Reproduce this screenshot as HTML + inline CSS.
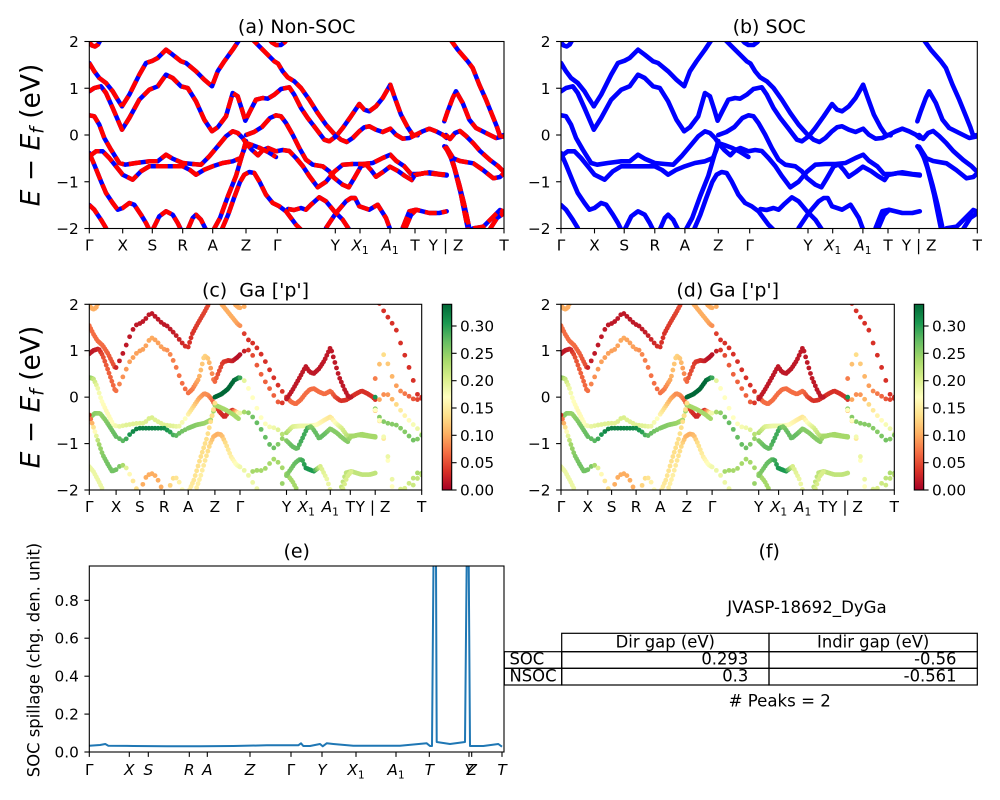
<!DOCTYPE html>
<html><head><meta charset="utf-8">
<style>
html,body{margin:0;padding:0;background:#fff;}
svg{display:block;font-family:"DejaVu Sans","Liberation Sans",sans-serif;}
</style></head><body>
<svg id="s" width="1000" height="800" viewBox="0 0 1000 800" xmlns="http://www.w3.org/2000/svg">
<defs>
<clipPath id="ca"><rect x="89.3" y="41.5" width="414.7" height="187"/></clipPath>
<clipPath id="cb"><rect x="561" y="41.5" width="416.3" height="187"/></clipPath>
<clipPath id="cc"><rect x="89.3" y="304.3" width="332.4" height="185.7"/></clipPath>
<clipPath id="cd"><rect x="561" y="304.3" width="333.3" height="185.7"/></clipPath>
<clipPath id="ce"><rect x="89.3" y="566" width="414.7" height="186"/></clipPath>
<linearGradient id="cm" x1="0" y1="1" x2="0" y2="0">
<stop offset="0" stop-color="rgb(165,0,38)"/>
<stop offset="0.1" stop-color="rgb(215,48,39)"/>
<stop offset="0.2" stop-color="rgb(244,109,67)"/>
<stop offset="0.3" stop-color="rgb(253,174,97)"/>
<stop offset="0.4" stop-color="rgb(254,224,139)"/>
<stop offset="0.5" stop-color="rgb(255,255,191)"/>
<stop offset="0.6" stop-color="rgb(217,239,139)"/>
<stop offset="0.7" stop-color="rgb(166,217,106)"/>
<stop offset="0.8" stop-color="rgb(102,189,99)"/>
<stop offset="0.9" stop-color="rgb(26,152,80)"/>
<stop offset="1" stop-color="rgb(0,104,55)"/>
</linearGradient>
</defs>
<rect x="0" y="0" width="1000" height="800" fill="#fff"/>

<g id="ga" clip-path="url(#ca)"></g>
<g id="gb" clip-path="url(#cb)"></g>
<g id="gc" clip-path="url(#cc)"></g>
<g id="gd" clip-path="url(#cd)"></g>

<g clip-path="url(#ce)">
<polyline fill="none" stroke="#1f77b4" stroke-width="2" stroke-linejoin="round" points="89.3,745.7 100,745 105.3,744 108.3,745.7 133.3,746 166.7,746.3 200,746.3 233.3,746 266.7,745.3 293.3,745.3 298.3,745.3 301,743.3 303.3,746 310,746 320,744 322.7,746.3 326.7,743.3 333.3,744 353.3,745.7 400,745.7 426.7,743.3 430,746 432,746 433.5,560 436,560 436.7,742 450,744 465,742 466.7,560 468.7,560 470,746 483.3,746 498.3,744 502,746.7"/>
</g>

<g fill="none" stroke="#000" stroke-width="1.1">
<rect x="89.3" y="41.5" width="414.7" height="187"/>
<rect x="561" y="41.5" width="416.3" height="187"/>
<rect x="89.3" y="304.3" width="332.4" height="185.7"/>
<rect x="561" y="304.3" width="333.3" height="185.7"/>
<rect x="89.3" y="566" width="414.7" height="186"/>
</g>

<rect x="442.3" y="304.3" width="9.4" height="185.7" fill="url(#cm)" stroke="#000" stroke-width="1.1"/>
<rect x="914.3" y="304.3" width="9.4" height="185.7" fill="url(#cm)" stroke="#000" stroke-width="1.1"/>

<g stroke="#000" stroke-width="1.1">
<line x1="84.4" y1="41.5" x2="89.3" y2="41.5"/><line x1="84.4" y1="88.25" x2="89.3" y2="88.25"/><line x1="84.4" y1="135" x2="89.3" y2="135"/><line x1="84.4" y1="181.75" x2="89.3" y2="181.75"/><line x1="84.4" y1="228.5" x2="89.3" y2="228.5"/>
<line x1="556.1" y1="41.5" x2="561" y2="41.5"/><line x1="556.1" y1="88.25" x2="561" y2="88.25"/><line x1="556.1" y1="135" x2="561" y2="135"/><line x1="556.1" y1="181.75" x2="561" y2="181.75"/><line x1="556.1" y1="228.5" x2="561" y2="228.5"/>
<line x1="84.4" y1="304.3" x2="89.3" y2="304.3"/><line x1="84.4" y1="350.7" x2="89.3" y2="350.7"/><line x1="84.4" y1="397.15" x2="89.3" y2="397.15"/><line x1="84.4" y1="443.6" x2="89.3" y2="443.6"/><line x1="84.4" y1="490" x2="89.3" y2="490"/>
<line x1="556.1" y1="304.3" x2="561" y2="304.3"/><line x1="556.1" y1="350.7" x2="561" y2="350.7"/><line x1="556.1" y1="397.15" x2="561" y2="397.15"/><line x1="556.1" y1="443.6" x2="561" y2="443.6"/><line x1="556.1" y1="490" x2="561" y2="490"/>
<line x1="84.4" y1="752" x2="89.3" y2="752"/><line x1="84.4" y1="714.1" x2="89.3" y2="714.1"/><line x1="84.4" y1="676.2" x2="89.3" y2="676.2"/><line x1="84.4" y1="638.2" x2="89.3" y2="638.2"/><line x1="84.4" y1="600.3" x2="89.3" y2="600.3"/>
<line x1="89.3" y1="228.5" x2="89.3" y2="233.4"/><line x1="122.7" y1="228.5" x2="122.7" y2="233.4"/><line x1="152.3" y1="228.5" x2="152.3" y2="233.4"/><line x1="182.7" y1="228.5" x2="182.7" y2="233.4"/><line x1="212.7" y1="228.5" x2="212.7" y2="233.4"/><line x1="246" y1="228.5" x2="246" y2="233.4"/><line x1="277.3" y1="228.5" x2="277.3" y2="233.4"/><line x1="335.3" y1="228.5" x2="335.3" y2="233.4"/><line x1="360" y1="228.5" x2="360" y2="233.4"/><line x1="390" y1="228.5" x2="390" y2="233.4"/><line x1="415" y1="228.5" x2="415" y2="233.4"/><line x1="446" y1="228.5" x2="446" y2="233.4"/><line x1="504" y1="228.5" x2="504" y2="233.4"/>
<line x1="561" y1="228.5" x2="561" y2="233.4"/><line x1="594.5" y1="228.5" x2="594.5" y2="233.4"/><line x1="624.2" y1="228.5" x2="624.2" y2="233.4"/><line x1="654.8" y1="228.5" x2="654.8" y2="233.4"/><line x1="684.9" y1="228.5" x2="684.9" y2="233.4"/><line x1="718.3" y1="228.5" x2="718.3" y2="233.4"/><line x1="749.7" y1="228.5" x2="749.7" y2="233.4"/><line x1="808" y1="228.5" x2="808" y2="233.4"/><line x1="832.7" y1="228.5" x2="832.7" y2="233.4"/><line x1="862.9" y1="228.5" x2="862.9" y2="233.4"/><line x1="888" y1="228.5" x2="888" y2="233.4"/><line x1="919.1" y1="228.5" x2="919.1" y2="233.4"/><line x1="977.3" y1="228.5" x2="977.3" y2="233.4"/>
<line x1="89.3" y1="490" x2="89.3" y2="494.9"/><line x1="116.1" y1="490" x2="116.1" y2="494.9"/><line x1="139.8" y1="490" x2="139.8" y2="494.9"/><line x1="164.2" y1="490" x2="164.2" y2="494.9"/><line x1="188.2" y1="490" x2="188.2" y2="494.9"/><line x1="214.9" y1="490" x2="214.9" y2="494.9"/><line x1="240" y1="490" x2="240" y2="494.9"/><line x1="286.5" y1="490" x2="286.5" y2="494.9"/><line x1="306.3" y1="490" x2="306.3" y2="494.9"/><line x1="330.3" y1="490" x2="330.3" y2="494.9"/><line x1="350.3" y1="490" x2="350.3" y2="494.9"/><line x1="375.2" y1="490" x2="375.2" y2="494.9"/><line x1="421.7" y1="490" x2="421.7" y2="494.9"/>
<line x1="561" y1="490" x2="561" y2="494.9"/><line x1="587.8" y1="490" x2="587.8" y2="494.9"/><line x1="611.6" y1="490" x2="611.6" y2="494.9"/><line x1="636.1" y1="490" x2="636.1" y2="494.9"/><line x1="660.2" y1="490" x2="660.2" y2="494.9"/><line x1="686.9" y1="490" x2="686.9" y2="494.9"/><line x1="712.1" y1="490" x2="712.1" y2="494.9"/><line x1="758.7" y1="490" x2="758.7" y2="494.9"/><line x1="778.6" y1="490" x2="778.6" y2="494.9"/><line x1="802.7" y1="490" x2="802.7" y2="494.9"/><line x1="822.8" y1="490" x2="822.8" y2="494.9"/><line x1="847.7" y1="490" x2="847.7" y2="494.9"/><line x1="894.3" y1="490" x2="894.3" y2="494.9"/>
<line x1="89.3" y1="752" x2="89.3" y2="756.9"/><line x1="129.3" y1="752" x2="129.3" y2="756.9"/><line x1="148.3" y1="752" x2="148.3" y2="756.9"/><line x1="189.3" y1="752" x2="189.3" y2="756.9"/><line x1="207.3" y1="752" x2="207.3" y2="756.9"/><line x1="250" y1="752" x2="250" y2="756.9"/><line x1="291" y1="752" x2="291" y2="756.9"/><line x1="322" y1="752" x2="322" y2="756.9"/><line x1="356" y1="752" x2="356" y2="756.9"/><line x1="396" y1="752" x2="396" y2="756.9"/><line x1="429.3" y1="752" x2="429.3" y2="756.9"/><line x1="469" y1="752" x2="469" y2="756.9"/><line x1="471.7" y1="752" x2="471.7" y2="756.9"/><line x1="502" y1="752" x2="502" y2="756.9"/>
<line x1="451.7" y1="490" x2="456.6" y2="490"/><line x1="451.7" y1="462.7" x2="456.6" y2="462.7"/><line x1="451.7" y1="435.3" x2="456.6" y2="435.3"/><line x1="451.7" y1="408" x2="456.6" y2="408"/><line x1="451.7" y1="380.7" x2="456.6" y2="380.7"/><line x1="451.7" y1="353.3" x2="456.6" y2="353.3"/><line x1="451.7" y1="326" x2="456.6" y2="326"/>
<line x1="923.7" y1="490" x2="928.6" y2="490"/><line x1="923.7" y1="462.7" x2="928.6" y2="462.7"/><line x1="923.7" y1="435.3" x2="928.6" y2="435.3"/><line x1="923.7" y1="408" x2="928.6" y2="408"/><line x1="923.7" y1="380.7" x2="928.6" y2="380.7"/><line x1="923.7" y1="353.3" x2="928.6" y2="353.3"/><line x1="923.7" y1="326" x2="928.6" y2="326"/>
</g>

<g font-size="15.3" fill="#000">
<g text-anchor="end">
<text x="78.8" y="47">2</text><text x="78.8" y="93.75">1</text><text x="78.8" y="140.5">0</text><text x="78.8" y="187.25">−1</text><text x="78.8" y="234">−2</text>
<text x="550.5" y="47">2</text><text x="550.5" y="93.75">1</text><text x="550.5" y="140.5">0</text><text x="550.5" y="187.25">−1</text><text x="550.5" y="234">−2</text>
<text x="78.8" y="309.8">2</text><text x="78.8" y="356.2">1</text><text x="78.8" y="402.65">0</text><text x="78.8" y="449.1">−1</text><text x="78.8" y="495.5">−2</text>
<text x="550.5" y="309.8">2</text><text x="550.5" y="356.2">1</text><text x="550.5" y="402.65">0</text><text x="550.5" y="449.1">−1</text><text x="550.5" y="495.5">−2</text>
<text x="78.8" y="757.5">0.0</text><text x="78.8" y="719.6">0.2</text><text x="78.8" y="681.7">0.4</text><text x="78.8" y="643.7">0.6</text><text x="78.8" y="605.8">0.8</text>
</g>
<g text-anchor="start">
<text x="460" y="495.5">0.00</text><text x="460" y="468.2">0.05</text><text x="460" y="440.8">0.10</text><text x="460" y="413.5">0.15</text><text x="460" y="386.2">0.20</text><text x="460" y="358.8">0.25</text><text x="460" y="331.5">0.30</text>
<text x="932" y="495.5">0.00</text><text x="932" y="468.2">0.05</text><text x="932" y="440.8">0.10</text><text x="932" y="413.5">0.15</text><text x="932" y="386.2">0.20</text><text x="932" y="358.8">0.25</text><text x="932" y="331.5">0.30</text>
</g>
<g text-anchor="middle">
<text x="89.3" y="250.7">Γ</text><text x="122.7" y="250.7">X</text><text x="152.3" y="250.7">S</text><text x="182.7" y="250.7">R</text><text x="212.7" y="250.7">A</text><text x="246" y="250.7">Z</text><text x="277.3" y="250.7">Γ</text><text x="335.3" y="250.7">Y</text>
<text x="360" y="250.7"><tspan font-style="italic">X</tspan><tspan font-size="10.7" dy="3.5">1</tspan></text>
<text x="390" y="250.7"><tspan font-style="italic">A</tspan><tspan font-size="10.7" dy="3.5">1</tspan></text>
<text x="415" y="250.7">T</text><text x="446" y="250.7">Y | Z</text><text x="504" y="250.7">T</text>
<text x="561" y="250.7">Γ</text><text x="594.5" y="250.7">X</text><text x="624.2" y="250.7">S</text><text x="654.8" y="250.7">R</text><text x="684.9" y="250.7">A</text><text x="718.3" y="250.7">Z</text><text x="749.7" y="250.7">Γ</text><text x="808" y="250.7">Y</text>
<text x="832.7" y="250.7"><tspan font-style="italic">X</tspan><tspan font-size="10.7" dy="3.5">1</tspan></text>
<text x="862.9" y="250.7"><tspan font-style="italic">A</tspan><tspan font-size="10.7" dy="3.5">1</tspan></text>
<text x="888" y="250.7">T</text><text x="919.1" y="250.7">Y | Z</text><text x="977.3" y="250.7">T</text>
<text x="89.3" y="512.2">Γ</text><text x="116.1" y="512.2">X</text><text x="139.8" y="512.2">S</text><text x="164.2" y="512.2">R</text><text x="188.2" y="512.2">A</text><text x="214.9" y="512.2">Z</text><text x="240" y="512.2">Γ</text><text x="286.5" y="512.2">Y</text>
<text x="306.3" y="512.2"><tspan font-style="italic">X</tspan><tspan font-size="10.7" dy="3.5">1</tspan></text>
<text x="330.3" y="512.2"><tspan font-style="italic">A</tspan><tspan font-size="10.7" dy="3.5">1</tspan></text>
<text x="350.3" y="512.2">T</text><text x="373" y="512.2">Y | Z</text><text x="421.7" y="512.2">T</text>
<text x="561" y="512.2">Γ</text><text x="587.8" y="512.2">X</text><text x="611.6" y="512.2">S</text><text x="636.1" y="512.2">R</text><text x="660.2" y="512.2">A</text><text x="686.9" y="512.2">Z</text><text x="712.1" y="512.2">Γ</text><text x="758.7" y="512.2">Y</text>
<text x="778.6" y="512.2"><tspan font-style="italic">X</tspan><tspan font-size="10.7" dy="3.5">1</tspan></text>
<text x="802.7" y="512.2"><tspan font-style="italic">A</tspan><tspan font-size="10.7" dy="3.5">1</tspan></text>
<text x="822.8" y="512.2">T</text><text x="845.5" y="512.2">Y | Z</text><text x="894.3" y="512.2">T</text>
<text x="89.3" y="775">Γ</text>
<text x="129.3" y="775" font-style="italic">X</text><text x="148.3" y="775" font-style="italic">S</text><text x="189.3" y="775" font-style="italic">R</text><text x="207.3" y="775" font-style="italic">A</text><text x="250" y="775" font-style="italic">Z</text>
<text x="291" y="775">Γ</text>
<text x="322" y="775" font-style="italic">Y</text>
<text x="356" y="775"><tspan font-style="italic">X</tspan><tspan font-size="10.7" dy="3.5">1</tspan></text>
<text x="396" y="775"><tspan font-style="italic">A</tspan><tspan font-size="10.7" dy="3.5">1</tspan></text>
<text x="429.3" y="775" font-style="italic">T</text>
<text x="469" y="775" font-style="italic">Y</text><text x="471.7" y="775" font-style="italic">Z</text>
<text x="502" y="775" font-style="italic">T</text>
</g>
</g>

<g font-size="19" text-anchor="middle" fill="#000">
<text x="296.7" y="33">(a) Non-SOC</text>
<text x="769.2" y="33">(b) SOC</text>
<text x="255.5" y="296.5">(c)&#160; Ga ['p']</text>
<text x="727.7" y="296.5">(d) Ga ['p']</text>
<text x="296.7" y="557.5">(e)</text>
<text x="769.2" y="557.5">(f)</text>
</g>

<text transform="translate(39.5,135) rotate(-90)" text-anchor="middle" font-size="26.5"><tspan font-style="italic">E</tspan> − <tspan font-style="italic">E</tspan><tspan font-style="italic" font-size="18.5" dy="4">f</tspan><tspan dy="-4"> (eV)</tspan></text>
<text transform="translate(39.5,397) rotate(-90)" text-anchor="middle" font-size="26.5"><tspan font-style="italic">E</tspan> − <tspan font-style="italic">E</tspan><tspan font-style="italic" font-size="18.5" dy="4">f</tspan><tspan dy="-4"> (eV)</tspan></text>
<text transform="translate(39.4,660) rotate(-90)" text-anchor="middle" font-size="16.4">SOC spillage (chg. den. unit)</text>

<text x="807" y="613" font-size="16.6" text-anchor="middle">JVASP-18692_DyGa</text>
<g fill="none" stroke="#000" stroke-width="1.2">
<rect x="561.7" y="633.3" width="207.3" height="18.4"/>
<rect x="769" y="633.3" width="208.3" height="18.4"/>
<rect x="504.3" y="651.7" width="57.4" height="16.6"/>
<rect x="561.7" y="651.7" width="207.3" height="16.6"/>
<rect x="769" y="651.7" width="208.3" height="16.6"/>
<rect x="504.3" y="668.3" width="57.4" height="16.7"/>
<rect x="561.7" y="668.3" width="207.3" height="16.7"/>
<rect x="769" y="668.3" width="208.3" height="16.7"/>
</g>
<g font-size="16.4" fill="#000">
<text x="665.3" y="647.3" text-anchor="middle">Dir gap (eV)</text>
<text x="873.2" y="647.3" text-anchor="middle">Indir gap (eV)</text>
<text x="509.5" y="664.6">SOC</text>
<text x="748.3" y="664.6" text-anchor="end">0.293</text>
<text x="956.5" y="664.6" text-anchor="end">-0.56</text>
<text x="509.5" y="681.3">NSOC</text>
<text x="748.3" y="681.3" text-anchor="end">0.3</text>
<text x="956.5" y="681.3" text-anchor="end">-0.561</text>
</g>
<text x="779.7" y="706.5" font-size="16.6" text-anchor="middle"># Peaks = 2</text>
</svg>
<script>
(function(){
var NS="http://www.w3.org/2000/svg";
function mk(tag,at,par){var e=document.createElementNS(NS,tag);for(var k in at)e.setAttribute(k,at[k]);par.appendChild(e);return e;}
var CM=[[165,0,38],[215,48,39],[244,109,67],[253,174,97],[254,224,139],[255,255,191],[217,239,139],[166,217,106],[102,189,99],[26,152,80],[0,104,55]];
function col(t){t=Math.max(0,Math.min(1,t));var f=t*10,i=Math.min(9,Math.floor(f)),r=f-i,a=CM[i],b=CM[i+1];
return "rgb("+Math.round(a[0]+(b[0]-a[0])*r)+","+Math.round(a[1]+(b[1]-a[1])*r)+","+Math.round(a[2]+(b[2]-a[2])*r)+")";}
var B=[
[89,42,.3,92,45.5,.3,95,46.5,.3,98,44.5,.3,100.5,40,.3],
[269,39,.3,272,42.5,.3,276,45,.3,281,45,.3,285,42,.3,287,39,.3],
[89.3,63,.2,94.3,71.3,.2,99.3,78,.2,106,83,.2,112.7,91.3,.18,117,98.5,.16,122,106.3,.15],
[122,106.3,.08,129.3,94.7,.05,139.3,74.7,.05,146,63,.05,152.7,60.7,.05,157.7,58,.05,166,49.7,.05,172.7,54.7,.05,181,61.3,.05,186,63,.05,196,71.3,.06,204.3,79.7,.08,212,86.3,.1,217.7,71.3,.1,224.3,61.3,.12,232.7,49.7,.13,238.7,40.7,.15,241,36,.15],
[249,36,.3,254.3,41.3,.3,261,48,.3,269.3,56.3,.3,274.3,61.3,.28,278,63.5,.25,282.7,71.3,.12,287.7,77.3,.1,294.3,81.3,.1,301,88,.1,309.3,99.7,.1,317.7,113,.1,326,124.7,.1,334.3,134,.12,341,139.7,.2,346.7,142,.2,352.7,138,.2,359.3,131.3,.2,364.3,127.3,.2,369.3,126.3,.2,376,129.7,.2,382.7,132,.2,390.3,128.7,.2,396,134.7,.15,402.7,138.7,.1,409.3,138,.1,416,134.7,.1,422.7,131.3,.1,429.3,128.7,.1,436,131.3,.1,442.7,134.7,.1,446.7,138,.1],
[89.3,91.3,.05,94.3,88,.05,101,86.3,.07,106,93,.15,112.7,108,.18,122,129.7,.2,129.3,118,.25,139.3,99.7,.28,149.3,89.7,.28,157.7,86.3,.28,166,74.7,.3,172.7,78,.28,181,86.3,.28,187.7,88,.25,196,101.3,.22,204.3,119.7,.2,212,131.3,.2,217.7,127.3,.22,226,116.3,.3,232.7,93,.38,237.7,96.3,.35,242,109.7,.25,245.3,120.7,.2,250,111.3,.15,256,99.7,.12,262.7,98,.1,267.7,98.7,.07,274.3,94.7,.03,281,89,.05,289.3,87.3,.12,294.3,94.7,.15,301,108,.18,307.7,118,.18,316,128.7,.18,324.3,139.7,.18,329.3,141.3,.12,336,136.3,.05,342.7,128,.05,351,116.3,.05,359.3,104,.05,364.3,109.7,.05,369.3,111.3,.05,376,106.3,.05,382.7,98,.05,390.3,84.7,.05,394.3,96.3,.05,401,114.7,.05,407.7,127.3,.05,412.7,134.7,.05,417.7,135.3,.05],
[89.3,115.3,.8,94.3,116.3,.65,99.3,124.7,.55,104.3,138,.5,111,149.7,.48,119.3,163,.5,125.3,164.7,.55,136,163,.58,149.3,161.3,.58,157.7,161.3,.58,166,154.7,.6,172.7,158.7,.58,182.7,163,.58,192.7,164,.58,201,164.7,.55,209.3,156.3,.5,217.7,146.3,.4,226,136.3,.3,232.7,131.3,.25,237.7,133,.25,242.7,138,.2,246,143,.15,252,150,.1,258,155.3,.08,263,150,.1,268,148,.1,276,151.3,.5,282.7,150,.7,289.3,151,.75,296,158,.8,302.7,166,.8,309.3,176,.8,317.7,187.3,.8,326,181.7,.75,334.3,171.7,.7,342.7,164.7,.6,352.7,164,.55,362.7,164,.55,372.7,163,.5,382.7,158,.45,390.3,154.7,.42,396,160.7,.5,404.3,166.3,.6,411,174,.65,419.3,174,.7,429.3,172.3,.7,439.3,174,.7,446.7,174.7,.7],
[246,135,1,254,132,1,262,127,1,270,118,1,276,115.3,.95,281,116.3,.6,286,123,.5,292.7,134.7,.5,299.3,148,.5,306,159.7,.5,312.7,164.7,.52,322.7,166.3,.55,329.3,171.3,.65,334.3,178,.75,342.7,184.7,.8,348.7,187.3,.8,354.3,178,.85,361,166.3,.85,366,164.5,.75,371,170,.8,376,176.7,.8,383,172,.8,390,166.7,.75,398,171,.75,405,176,.75,411.7,180,.75,415,175,.7,425,173,.7,435,174,.7,446.7,175.5,.7],
[89.3,156.3,.72,96,151.3,.75,102.7,151.3,.72,109.3,158,.75,116,166.3,.78,122.7,174.7,.8,132.7,179.7,.82,141,171.3,.92,149.3,166.3,.95,157.7,166.3,.95,169.3,166.3,.95,182.7,166.3,.93,190,170,.88,196,174.7,.82,204.3,169.7,.78,212.7,166.3,.76,222.7,163,.75,232.7,161.3,.72,240.7,158,.7,244,150,.7,246,143,.7,252,145,.7,260,148,.7,268,152,.7,276,157,.7],
[89.3,153,.1,94.3,164.7,.4,101,181.3,.7,106,193,.75,112.7,203,.78,117.7,209.7,.78,122.7,208,.78,129.3,203,.75,134.3,204.7,.6,141,214.7,.45,146,223,.4,149.3,229.7,.4],
[89.3,205,.55,94.3,209.7,.55,101,219.7,.55,106,228,.55,108,235,.55],
[152.7,229.7,.3,159.3,216.3,.3,166,211.3,.3,172.7,214.7,.3,177.7,223,.3,181,229.7,.3],
[187.7,229.7,.35,192.7,218,.4,196,214.7,.4,201,219.7,.45,206,229.7,.5],
[222,229,.45,228,215,.45,234,198,.42,240,182,.38,244.3,174.7,.32,249.3,172,.3,254.3,173,.32,259.3,181.3,.4,266,194.7,.45,272.7,203,.5,279.3,206.3,.55,286,211.3,.55,291,218,.55,296,224.7,.55,301,229.7,.55],
[214,229,.45,220,218,.42,228,196,.4,236,176,.4,243,152,.4,246,141,.4],
[288,209,.7,294,210,.7,301,208,.7,306,209.7,.7,311,204.7,.7,319.3,197.3,.7,326,201.3,.7,334.3,211.3,.7,342.7,219.7,.7,349.3,229.7,.7],
[326,228,.7,336,213,.75,346,201.3,.8,351,198,.8,355,198,.85,359.3,206.3,.9,369.3,209.7,.9,377.7,204.7,.6,386,218,.55,390.3,229.7,.55],
[402.7,228,.65,409.3,211.3,.65,416,209.7,.65,429.3,213,.65,439.3,213,.65,446.7,211.3,.65],
[405,229,.6,411,215,.6,416,210,.6],
[449,37,.1,451.7,41.3,.1,457.7,49.7,.1,467.7,61.3,.1,472.7,68,.1,479.3,84.7,.1,486,99.7,.1,492.7,116.3,.1,497,127,.1,500,136,.1,504,135,.1],
[444.3,121.3,.15,447.7,111.3,.3,452.7,98,.35,456,91.3,.4,462.7,103,.35,469.3,119.7,.3,476,128,.25,486,133,.2,496,138,.15,504,136.3,.1],
[446,135,.9,450,139,.3,455,133,.25,460,131,.25,466,136,.3,473.3,143.3,.4,480,151,.45,490,160,.5,498,166,.55,504,172,.55],
[446,146.7,.75,453.3,158.3,.75,460,161,.75,473.3,163.3,.75,483,170,.75,493.3,178.3,.78,500,177,.75,504,173.3,.75],
[444.3,146.3,.3,449.3,153,.35,454.3,168,.4,457.7,181.3,.45,461,194.7,.5,464.3,211.3,.5,467.7,228,.5],
[446,148,.5,452.7,161.3,.5,459.3,184.7,.55,464.3,204.7,.55,469.3,228,.55],
[473.3,228.3,.6,483.3,226.7,.6,493.3,216.7,.65,500,210,.7,504,211.7,.7],
[490,229,.6,497,218,.65,504,213.3,.65]
];
var PS={a:[89.3,1,41.5,1],b:[561,416.3/414.7,41.5,1],c:[89.3,332.4/414.7,304.3,185.7/187],d:[561,333.3/414.7,304.3,185.7/187]};
function T(p,x,y){return [p[0]+(x-89.3)*p[1],p[2]+(y-41.5)*p[3]];}
function pathD(p,b){var d="";for(var i=0;i<b.length;i+=3){var q=T(p,b[i],b[i+1]);d+=(i?"L":"M")+q[0].toFixed(2)+" "+q[1].toFixed(2);}return d;}
var ga=document.getElementById("ga"),gb=document.getElementById("gb"),gc=document.getElementById("gc"),gd=document.getElementById("gd");
B.forEach(function(b){mk("path",{d:pathD(PS.a,b),fill:"none",stroke:"#0000ff","stroke-width":4.5,"stroke-linejoin":"round","stroke-linecap":"round"},ga);});
B.forEach(function(b){mk("path",{d:pathD(PS.a,b),fill:"none",stroke:"#ff0000","stroke-width":4.5,"stroke-linejoin":"round","stroke-dasharray":"12 5"},ga);});
B.forEach(function(b){mk("path",{d:pathD(PS.b,b),fill:"none",stroke:"#0000ff","stroke-width":4.6,"stroke-linejoin":"round","stroke-linecap":"round"},gb);});
var segs=[[89.3,122.7,1.8],[122.7,152.3,4],[152.3,182.7,4],[182.7,212.7,4],[212.7,246,1.8],[246,277.3,1.8],[277.3,335.3,5.5],[335.3,446,2],[446,504,5.5]];
var grid=[];segs.forEach(function(s){var n=Math.max(1,Math.round((s[1]-s[0])/s[2]));for(var i=0;i<n;i++)grid.push(s[0]+(s[1]-s[0])*i/n);});grid.push(504);
B.forEach(function(b){var n=b.length/3,x0=b[0],x1=b[(n-1)*3],j=0;
grid.forEach(function(gx){if(gx<x0-0.01||gx>x1+0.01)return;
while(j<n-2&&b[(j+1)*3]<gx)j++;
var xa=b[j*3],xb=b[(j+1)*3];var r=xb>xa?Math.max(0,Math.min(1,(gx-xa)/(xb-xa))):0;
var y=b[j*3+1]+(b[j*3+4]-b[j*3+1])*r;var t=b[j*3+2]+(b[j*3+5]-b[j*3+2])*r;var c=col(t);
[[PS.c,gc],[PS.d,gd]].forEach(function(pg){var q=T(pg[0],gx,y);mk("circle",{cx:q[0].toFixed(2),cy:q[1].toFixed(2),r:2.4,fill:c},pg[1]);});
});});
})();
</script>
</body></html>
